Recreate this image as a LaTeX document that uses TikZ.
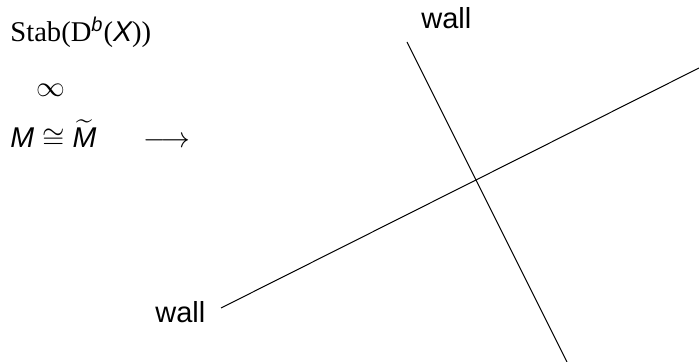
\documentclass[tikz,border=0pt]{standalone}
\usepackage{amsmath}
\usepackage{fontspec}
\setmainfont{Liberation Serif}
\setsansfont{Liberation Sans}
\newcommand{\sfit}[1]{\text{\sffamily\itshape #1}}
\begin{document}
\begin{tikzpicture}[x=0.5pt,y=-0.5pt,
  lbl/.style={anchor=base west,inner sep=0pt,font=\fontsize{14.3}{17}\selectfont},
  wallline/.style={line width=0.5pt,black}]
\useasboundingbox (0,0) rectangle (699,362);
\node[lbl] (stab) at (10,42) {Stab(D$^{\sfit{b}}$($\sfit{X}$))};
\node[lbl] (inf) at (36,97) {$\infty$};
\node[lbl] (iso) at (10,148) {$\sfit{M}\cong\widetilde{\sfit{M}}$};
\node[lbl] (arr) at (143,148) {$\longrightarrow$};
\node[lbl,font=\sffamily\fontsize{14.5}{17}\selectfont] (walltop) at (421,29) {wall};
\node[lbl,font=\sffamily\fontsize{14.5}{17}\selectfont] (wallbot) at (155,322) {wall};
\coordinate (w1a) at (407,42);
\coordinate (w1b) at (567,362);
\coordinate (w2a) at (221,308);
\coordinate (w2b) at (699,68);
\draw[wallline] (w1a) -- (w1b);
\draw[wallline] (w2a) -- (w2b);
\end{tikzpicture}
\end{document}
